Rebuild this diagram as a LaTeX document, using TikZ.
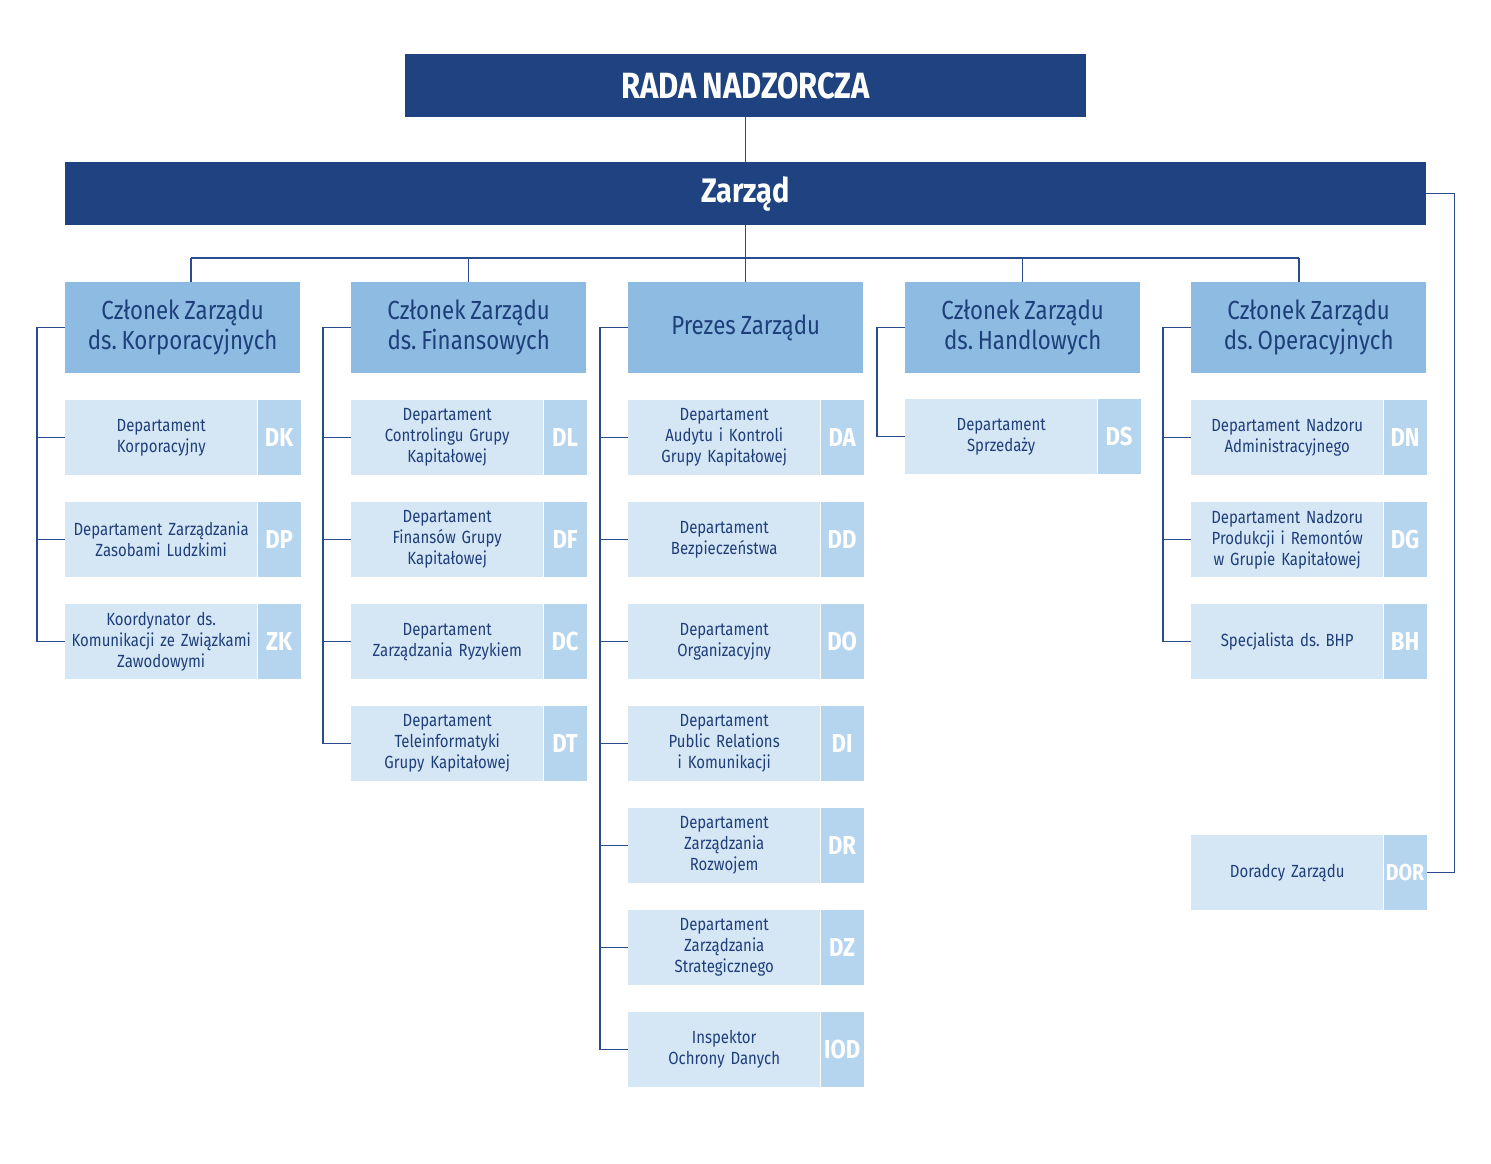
\documentclass[tikz,border=0pt]{standalone}
\usepackage{fontspec}
\setmainfont{Fira Sans}[FakeStretch=0.85, WordSpace=0.8]
\frenchspacing
\usepackage{tikz}
\usetikzlibrary{positioning,calc}
\usepackage{xcolor}
\definecolor{boardNavy}{HTML}{1F4381}
\definecolor{headBlue}{HTML}{8DBBE1}
\definecolor{deptLight}{HTML}{D5E6F5}
\definecolor{codeBlue}{HTML}{B5D4EE}
\definecolor{textNavy}{HTML}{1F3F7A}
\definecolor{linkBlue}{HTML}{2B4C8C}

\tikzset{
  topbox/.style={fill=boardNavy, text=white, minimum height=63, inner sep=0},
  headbox/.style={fill=headBlue, text=textNavy, minimum width=235, minimum height=91,
                  inner sep=0, align=center, font=\fontsize{26.2}{30}\selectfont},
  deptbox/.style={fill=deptLight, text=textNavy, text width=186, inner xsep=3,
                  inner ysep=0, minimum height=75, align=center,
                  font=\fontsize{17.6}{21}\selectfont},
  codebox/.style={fill=codeBlue, text=white, minimum width=43, minimum height=75,
                  inner sep=0, font=\bfseries\fontsize{26}{28}\selectfont},
  link/.style={draw=linkBlue, line width=1.4pt}
}

% department box with its code column
\newcommand{\deptnode}[5]{%
  \node[deptbox, anchor=north west] (#1) at (#2,#3) {#4};
  \node[codebox, anchor=north west] (#1c) at (#1.north east) {#5};
}

\begin{document}
\begin{tikzpicture}[x=1pt, y=-1pt]
    \useasboundingbox (0,0) rectangle (1491,1163);

    % board levels
    \node[topbox, minimum width=681, anchor=north west,
          font=\bfseries\fontsize{36.5}{40}\selectfont] (rada) at (405,54) {RADA NADZORCZA};
    \node[topbox, minimum width=1361, anchor=north west,
          font=\bfseries\fontsize{34}{38}\selectfont] (zarzad) at (65,162) {Zarząd};

    % members
    \node[headbox, anchor=north west] (h1) at (65,282)   {Członek Zarządu\\ds. Korporacyjnych};
    \node[headbox, anchor=north west] (h2) at (351,282)  {Członek Zarządu\\ds. Finansowych};
    \node[headbox, anchor=north west] (h3) at (628,282)  {Prezes Zarządu};
    \node[headbox, anchor=north west] (h4) at (905,282)  {Członek Zarządu\\ds. Handlowych};
    \node[headbox, anchor=north west] (h5) at (1191,282) {Członek Zarządu\\ds. Operacyjnych};

    % column 1
    \deptnode{dk}{65}{400}{Departament\\Korporacyjny}{DK}
    \deptnode{dp}{65}{502}{Departament Zarządzania\\Zasobami Ludzkimi}{DP}
    \deptnode{zk}{65}{604}{Koordynator ds.\\Komunikacji ze Związkami\\Zawodowymi}{ZK}

    % column 2
    \deptnode{dl}{351}{400}{Departament\\Controlingu Grupy\\Kapitałowej}{DL}
    \deptnode{df}{351}{502}{Departament\\Finansów Grupy\\Kapitałowej}{DF}
    \deptnode{dc}{351}{604}{Departament\\Zarządzania Ryzykiem}{DC}
    \deptnode{dt}{351}{706}{Departament\\Teleinformatyki\\Grupy Kapitałowej}{DT}

    % column 3
    \deptnode{da}{628}{400}{Departament\\Audytu i Kontroli\\Grupy Kapitałowej}{DA}
    \deptnode{dd}{628}{502}{Departament\\Bezpieczeństwa}{DD}
    \deptnode{do}{628}{604}{Departament\\Organizacyjny}{DO}
    \deptnode{di}{628}{706}{Departament\\Public Relations\\i Komunikacji}{DI}
    \deptnode{dr}{628}{808}{Departament\\Zarządzania\\Rozwojem}{DR}
    \deptnode{dz}{628}{910}{Departament\\Zarządzania\\Strategicznego}{DZ}
    \deptnode{iod}{628}{1012}{Inspektor\\Ochrony Danych}{IOD}

    % column 4
    \deptnode{ds}{905}{399}{Departament\\Sprzedaży}{DS}

    % column 5
    \deptnode{dn}{1191}{400}{Departament Nadzoru\\Administracyjnego}{DN}
    \deptnode{dg}{1191}{502}{Departament Nadzoru\\Produkcji i Remontów\\w Grupie Kapitałowej}{DG}
    \deptnode{bh}{1191}{604}{Specjalista ds. BHP}{BH}
    \deptnode{dor}{1191}{835}{Doradcy Zarządu}{\fontsize{23}{24}\selectfont DOR}

    % top links
    \draw[link] (rada.south) -- (zarzad.north);
    \draw[link] (zarzad.south) -- ++(0,33) coordinate (bus);
    \coordinate (t1) at (191,258);
    \coordinate (t5) at (1299,258);
    \draw[link] (t1) -- (t5);
    \draw[link] (t1) -- (t1 |- h1.north);
    \draw[link] (bus -| h2.north) -- (h2.north);
    \draw[link] (bus) -- (h3.north);
    \draw[link] (bus -| h4.north) -- (h4.north);
    \draw[link] (t5) -- (t5 |- h5.north);
    \draw[link] (zarzad.east) -- ++(28,0) |- (dorc.east);

    % spines
    \draw[link] (h1.west) -- ++(-28,0) coordinate (s1) |- (zk.west);
    \foreach \n in {dk,dp}
        \draw[link] (s1 |- \n.west) -- (\n.west);
    \draw[link] (h2.west) -- ++(-28,0) coordinate (s2) |- (dt.west);
    \foreach \n in {dl,df,dc}
        \draw[link] (s2 |- \n.west) -- (\n.west);
    \draw[link] (h3.west) -- ++(-28,0) coordinate (s3) |- (iod.west);
    \foreach \n in {da,dd,do,di,dr,dz}
        \draw[link] (s3 |- \n.west) -- (\n.west);
    \draw[link] (h4.west) -- ++(-28,0) |- (ds.west);
    \draw[link] (h5.west) -- ++(-28,0) coordinate (s5) |- (bh.west);
    \foreach \n in {dn,dg}
        \draw[link] (s5 |- \n.west) -- (\n.west);
\end{tikzpicture}
\end{document}
